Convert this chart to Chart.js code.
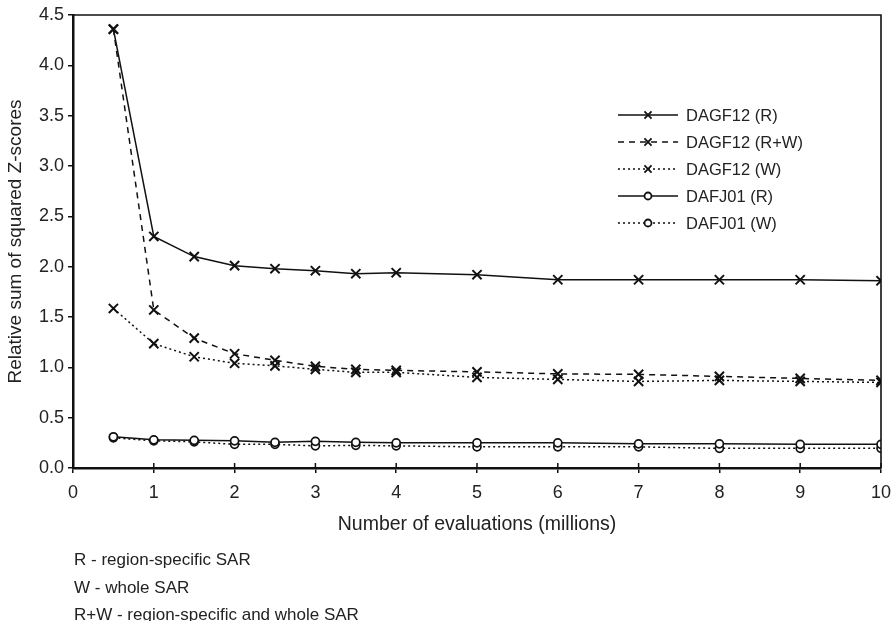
<!DOCTYPE html>
<html>
<head>
<meta charset="utf-8">
<script src="https://cdn.jsdelivr.net/npm/chart.js@4.4.1/dist/chart.umd.min.js"></script>
<style>
  html, body { margin: 0; padding: 0; background: #fff; }
  #wrap { position: relative; width: 891px; height: 621px; }
</style>
</head>
<body>
<div id="wrap"><canvas id="c" width="891" height="621"></canvas></div>
<script>
// ---- data ----
const evaluations = [0.5, 1, 1.5, 2, 2.5, 3, 3.5, 4, 5, 6, 7, 8, 9, 10];
const dagf12R  = [4.36, 2.30, 2.10, 2.01, 1.98, 1.96, 1.93, 1.94, 1.92, 1.87, 1.87, 1.87, 1.87, 1.86];
const dagf12RW = [4.36, 1.57, 1.29, 1.135, 1.07, 1.01, 0.98, 0.97, 0.955, 0.935, 0.93, 0.91, 0.89, 0.87];
const dagf12W  = [1.585, 1.235, 1.105, 1.04, 1.015, 0.98, 0.95, 0.95, 0.90, 0.88, 0.86, 0.87, 0.86, 0.85];
const dafj01R  = [0.31, 0.28, 0.275, 0.27, 0.255, 0.265, 0.255, 0.25, 0.25, 0.25, 0.24, 0.24, 0.235, 0.235];
const dafj01W  = [0.30, 0.27, 0.26, 0.235, 0.235, 0.22, 0.225, 0.22, 0.21, 0.21, 0.21, 0.195, 0.195, 0.195];
const seriesNames = ['DAGF12 (R)', 'DAGF12 (R+W)', 'DAGF12 (W)', 'DAFJ01 (R)', 'DAFJ01 (W)'];
const footnotes = ['R - region-specific SAR', 'W - whole SAR', 'R+W - region-specific and whole SAR'];
const xTitle = 'Number of evaluations (millions)';
const yTitle = 'Relative sum of squared Z-scores';

const INK = '#111';
const FONT = '"Liberation Sans", Arial, Helvetica, sans-serif';

function pts(vals) { return evaluations.map((x, i) => ({x: x, y: vals[i]})); }

const styles = [
  {dash: [], marker: 'crossRot', r: 6.5, bw: 2},
  {dash: [6, 5], marker: 'crossRot', r: 6.5, bw: 2},
  {dash: [2, 3], marker: 'crossRot', r: 6.5, bw: 2},
  {dash: [], marker: 'circle', r: 4, bw: 1.7},
  {dash: [2, 3], marker: 'circle', r: 4, bw: 1.7}
];
const allVals = [dagf12R, dagf12RW, dagf12W, dafj01R, dafj01W];

const datasets = allVals.map((v, i) => ({
  label: seriesNames[i],
  data: pts(v),
  borderColor: INK,
  borderWidth: 1.5,
  borderDash: styles[i].dash,
  pointStyle: styles[i].marker,
  pointRadius: styles[i].r,
  pointBorderWidth: styles[i].bw,
  pointBackgroundColor: '#fff',
  pointBorderColor: INK,
  tension: 0,
  fill: false
}));

const decorPlugin = {
  id: 'decor',
  afterDraw(chart) {
    const ctx = chart.ctx;
    const ca = chart.chartArea;
    const xs = chart.scales.x;
    ctx.save();
    // top and right frame
    ctx.strokeStyle = INK;
    ctx.lineWidth = 1.6;
    ctx.beginPath();
    ctx.moveTo(ca.left, ca.top);
    ctx.lineTo(ca.right, ca.top);
    ctx.lineTo(ca.right, ca.bottom);
    ctx.stroke();
    // inner tick halves on x axis
    ctx.lineWidth = 1.5;
    ctx.beginPath();
    xs.ticks.forEach(t => {
      const px = xs.getPixelForValue(t.value);
      ctx.moveTo(px, ca.bottom); ctx.lineTo(px, ca.bottom - 5);
    });
    ctx.stroke();
    // legend
    ctx.font = '16.5px ' + FONT;
    ctx.textBaseline = 'middle';
    ctx.textAlign = 'left';
    chart.data.datasets.forEach((ds, i) => {
      const y = 115 + i * 27;
      ctx.strokeStyle = INK;
      ctx.lineWidth = 1.5;
      ctx.setLineDash(ds.borderDash);
      ctx.beginPath();
      ctx.moveTo(618, y); ctx.lineTo(678, y);
      ctx.stroke();
      ctx.setLineDash([]);
      ctx.lineWidth = 1.8;
      ctx.fillStyle = '#fff';
      const r = ds.pointStyle === 'circle' ? 3.5 : 5;
      Chart.helpers.drawPoint(ctx, {pointStyle: ds.pointStyle, radius: r, rotation: 0, borderWidth: 1.8}, 648, y);
      ctx.fillStyle = '#222';
      ctx.fillText(ds.label, 686, y + 1);
    });
    // footnotes
    ctx.font = '17px ' + FONT;
    ctx.fillStyle = '#222';
    const fy = [560, 588, 615];
    footnotes.forEach((t, i) => ctx.fillText(t, 74, fy[i]));
    ctx.restore();
  }
};

new Chart(document.getElementById('c'), {
  type: 'line',
  data: { datasets: datasets },
  options: {
    responsive: false,
    animation: false,
    layout: { padding: { top: 15, right: 0, left: 0, bottom: 85 } },
    plugins: { legend: { display: false }, tooltip: { enabled: false } },
    scales: {
      x: {
        type: 'linear', min: 0, max: 10,
        afterFit(s) { s.height = 68; s.paddingRight = 10; s.paddingLeft = 0; },
        ticks: { stepSize: 1, color: '#222', font: { family: FONT, size: 18 }, padding: 9, maxRotation: 0 },
        grid: { drawOnChartArea: false, drawTicks: true, tickLength: 5, color: INK, lineWidth: 1.5 },
        border: { color: INK, width: 2.5 },
        title: { display: true, text: xTitle, color: '#222', font: { family: FONT, size: 19.5 }, padding: { top: 0, bottom: 0 } }
      },
      y: {
        min: 0, max: 4.5,
        afterFit(s) { s.width = 73; },
        ticks: { stepSize: 0.5, color: '#222', font: { family: FONT, size: 18 }, padding: 4,
                 callback: v => Number(v).toFixed(1) },
        grid: { drawOnChartArea: false, drawTicks: true, tickLength: 5, color: INK, lineWidth: 1.5 },
        border: { color: INK, width: 2.5 },
        title: { display: true, text: yTitle, color: '#222', font: { family: FONT, size: 19 }, padding: { top: 4, bottom: 0 } }
      }
    }
  },
  plugins: [decorPlugin]
});
</script>
</body>
</html>
